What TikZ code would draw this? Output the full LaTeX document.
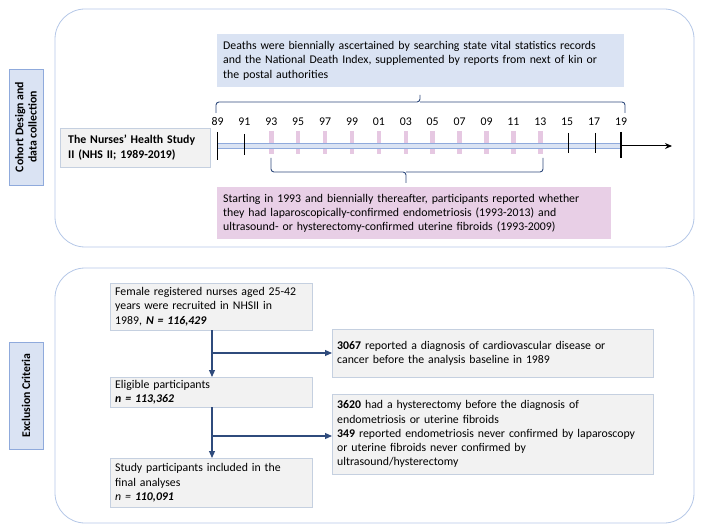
\documentclass[tikz,border=0pt]{standalone}
\usepackage{fontspec}
\setmainfont{Carlito}
\usetikzlibrary{arrows.meta}
\definecolor{lblue}{HTML}{DAE3F3}
\definecolor{mblue}{HTML}{8FAADC}
\definecolor{oblue}{HTML}{B4C7E7}
\definecolor{dblue}{HTML}{2F4B7C}
\definecolor{lpink}{HTML}{E8CFE6}
\definecolor{tpink}{HTML}{E6C8E2}
\definecolor{lgrey}{HTML}{F2F2F2}
\definecolor{gborder}{HTML}{C5D0E0}
\begin{document}
\begin{tikzpicture}[x=1pt,y=-1pt,
  every node/.style={font=\fontsize{11.8}{14.3}\selectfont, inner sep=0pt},
  outerbox/.style={draw=oblue, line width=0.8pt, rounded corners=30pt},
  sidelabel/.style={draw=mblue, fill=lblue, rotate=90, font=\fontsize{11.8}{13.2}\selectfont\bfseries, align=center, minimum height=34pt},
  greybox/.style={draw=gborder, fill=lgrey, anchor=north west, align=left, inner xsep=5pt},
  flowarrow/.style={draw=dblue, line width=1.1pt, -{Triangle[length=7pt,width=6pt]}},
  bracecol/.style={draw=dblue, line width=0.9pt, rounded corners=3pt},
  yearlabel/.style={font=\fontsize{11.8}{13}\selectfont}
]
\useasboundingbox (0,0) rectangle (704,529);

% outer boxes
\draw[outerbox] (55,9) rectangle (694,247);
\draw[outerbox] (55,268) rectangle (694,523);

% side labels
\node[sidelabel, minimum width=116pt] (lab1) at (26,127) {Cohort Design and\\data collection};
\node[sidelabel, minimum width=107pt] (lab2) at (26,395.5) {Exclusion Criteria};

% top part
\node[fill=lblue, anchor=north west, minimum width=407pt, minimum height=53pt, text width=395pt, inner xsep=6pt, align=left] (deaths) at (217,34)
 {Deaths were biennially ascertained by searching state vital statistics records\\and the National Death Index, supplemented by reports from next of kin or\\the postal authorities};

\node[fill=lpink, anchor=north west, minimum width=394pt, minimum height=52pt, text width=382pt, inner xsep=6pt, align=left] (endo) at (217,187)
 {Starting in 1993 and biennially thereafter, participants reported whether\\they had laparoscopically-confirmed endometriosis (1993-2013) and\\ultrasound- or hysterectomy-confirmed uterine fibroids (1993-2009)};

\node[greybox, minimum width=146pt, minimum height=39pt, text width=134pt, inner xsep=8pt, font=\fontsize{11.8}{14.3}\selectfont\bfseries] (nhs) at (60,128)
 {The Nurses’ Health Study\\II (NHS II; 1989-2019)};

% timeline ticks (pink, under the bar)
\foreach \i in {2,...,12}{
  \draw[tpink, line width=4.5pt] ({217.5+\i*26.9},131) -- ({217.5+\i*26.9},154);
}
% bar
\coordinate (tstart) at (217.5,146);
\coordinate (tend) at (621,146);
\coordinate (tarrow) at (672,146);
\draw[mblue, line width=1pt, double=lblue, double distance=3.5pt] (tstart) -- (tend);
\draw[black, line width=1pt, -{Stealth[length=7pt,width=6pt]}] (tend) -- (tarrow);
% black ticks
\draw[black, line width=1.8pt] (217.5,132) -- (217.5,160);
\draw[black, line width=1.5pt] (244.4,134) -- (244.4,155);
\draw[black, line width=1.5pt] (568.5,133) -- (568.5,153);
\draw[black, line width=1.5pt] (595.4,133) -- (595.4,153);
\draw[black, line width=1.8pt] (621,132) -- (621,158);

% year labels
\foreach \y [count=\i from 0] in {89,91,93,95,97,99,01,03,05,07,09,11,13,15,17,19}{
  \node[yearlabel] (yr\i) at ({217.5+\i*26.9},122) {\y};
}

% braces
\coordinate (b1a) at (216,113);
\coordinate (b1tip) at (420,95);
\coordinate (b1b) at (625,113);
\draw[bracecol] (b1a) -- (216,102) -- (420,102) -- (b1tip);
\draw[bracecol] (420,102) -- (625,102) -- (b1b);
\coordinate (b2a) at (271,158);
\coordinate (b2tip) at (406,183);
\coordinate (b2b) at (543,158);
\draw[bracecol] (b2a) -- (271,172) -- (406,172) -- (b2tip);
\draw[bracecol] (406,172) -- (543,172) -- (b2b);

% flow chart
\node[greybox, minimum width=202pt, minimum height=47pt, text width=192pt] (f1) at (110,283)
 {Female registered nurses aged 25-42\\years were recruited in NHSII in\\1989, \textbf{\textit{N = 116,429}}};
\node[greybox, minimum width=202pt, minimum height=30pt, text width=192pt] (f2) at (110,377)
 {Eligible participants\\\textbf{\textit{n = 113,362}}};
\node[greybox, minimum width=202pt, minimum height=49pt, text width=192pt] (f3) at (110,458)
 {Study participants included in the\\final analyses\\\textit{n = }\textbf{\textit{110,091}}};
\node[greybox, minimum width=321pt, minimum height=48pt, text width=311pt] (e1) at (332,329)
 {\textbf{3067} reported a diagnosis of cardiovascular disease or\\cancer before the analysis baseline in 1989};
\node[greybox, minimum width=321pt, minimum height=80pt, text width=311pt] (e2) at (332,394)
 {\textbf{3620} had a hysterectomy before the diagnosis of\\endometriosis or uterine fibroids\\\textbf{349} reported endometriosis never confirmed by laparoscopy\\or uterine fibroids never confirmed by\\ultrasound/hysterectomy};

\coordinate (j1) at (212,353);
\coordinate (j2) at (212,436);
\draw[flowarrow] (f1.south -| j1) -- (f2.north -| j1);
\draw[flowarrow] (f2.south -| j2) -- (f3.north -| j2);
\draw[flowarrow] (j1) -- (j1 -| e1.west);
\draw[flowarrow] (j2) -- (j2 -| e2.west);
\end{tikzpicture}
\end{document}
